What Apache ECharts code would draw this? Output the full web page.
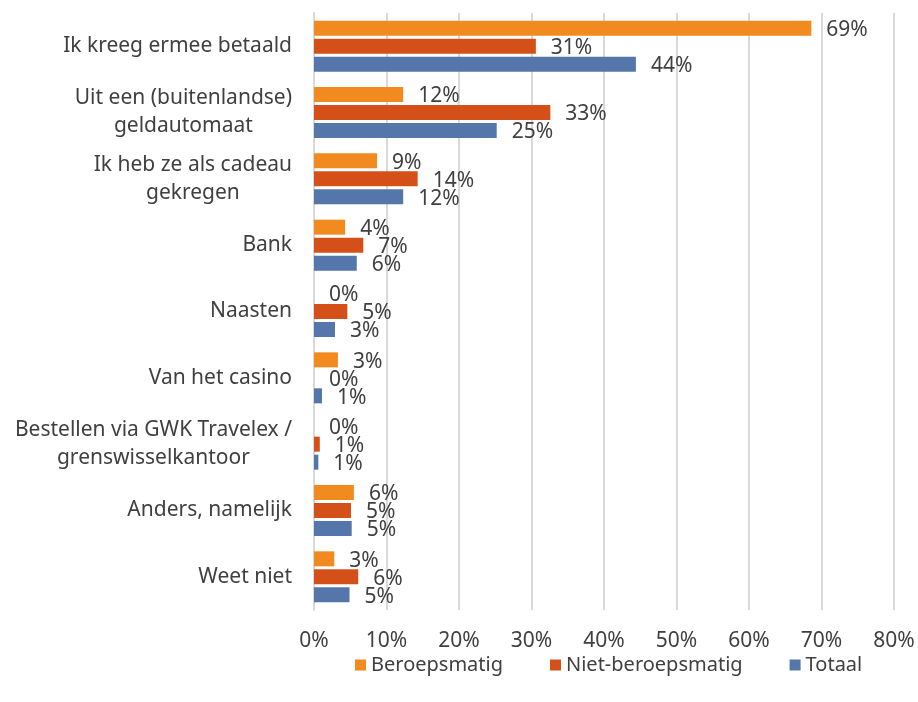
<!DOCTYPE html>
<html>
<head>
<meta charset="utf-8">
<script src="https://cdn.jsdelivr.net/npm/echarts@6/dist/echarts.min.js"></script>
<style>
  html, body { margin: 0; padding: 0; background: #fff; }
  #chart { width: 918px; height: 702px; }
</style>
</head>
<body>
<div id="chart"></div>
<script>
const categories = [
  'Ik kreeg ermee betaald',
  'Uit een (buitenlandse)\ngeldautomaat',
  'Ik heb ze als cadeau\ngekregen',
  'Bank',
  'Naasten',
  'Van het casino',
  'Bestellen via GWK Travelex /\ngrenswisselkantoor',
  'Anders, namelijk',
  'Weet niet'
];
const seriesNames = ['Beroepsmatig', 'Niet-beroepsmatig', 'Totaal'];
const beroepsmatig = [68.6, 12.3, 8.7, 4.3, 0, 3.3, 0, 5.5, 2.8];
const nietBeroepsmatig = [30.6, 32.6, 14.3, 6.8, 4.6, 0, 0.8, 5.1, 6.1];
const totaal = [44.4, 25.2, 12.3, 5.9, 2.9, 1.1, 0.6, 5.2, 4.9];
const colors = ['#F18A1F', '#D55019', '#5476AB'];

const textColor = '#404040';
const fontFamily = 'Noto Sans';
const fontSize = 21;

const chart = echarts.init(document.getElementById('chart'));

const makeSeries = (name, data, color) => ({
  name,
  type: 'bar',
  data,
  barWidth: 15,
  barGap: '20%',
  itemStyle: { color },
  label: {
    show: true,
    position: 'right',
    distance: 15,
    offset: [0, 2],
    color: textColor,
    fontSize,
    fontFamily,
    formatter: p => Math.round(p.value) + '%'
  }
});

chart.setOption({
  animation: false,
  textStyle: { fontFamily },
  grid: { left: 314, right: 24, top: 13, bottom: 92, containLabel: false },
  legend: {
    left: 350,
    top: 650,
    itemWidth: 11,
    itemHeight: 11,
    itemGap: 47,
    icon: 'rect',
    textStyle: { color: textColor, fontSize: 20, fontFamily },
    data: seriesNames
  },
  xAxis: {
    type: 'value',
    min: 0,
    max: 80,
    interval: 10,
    axisLine: { show: false },
    axisTick: { show: false },
    splitLine: { lineStyle: { color: '#D9D9D9', width: 2 } },
    axisLabel: {
      color: textColor,
      fontSize,
      fontFamily,
      margin: 21,
      formatter: v => v + '%'
    }
  },
  yAxis: {
    type: 'category',
    inverse: true,
    data: categories,
    axisLine: { show: true, lineStyle: { color: '#D9D9D9', width: 2 } },
    axisTick: { show: false },
    axisLabel: {
      margin: 22,
      formatter: v => v.split('\n').map(s => '{c|' + s + '}').join('\n'),
      rich: {
        c: {
          align: 'center',
          color: textColor,
          fontSize,
          fontFamily,
          lineHeight: 28
        }
      }
    }
  },
  series: [
    makeSeries(seriesNames[0], beroepsmatig, colors[0]),
    makeSeries(seriesNames[1], nietBeroepsmatig, colors[1]),
    makeSeries(seriesNames[2], totaal, colors[2])
  ]
});
</script>
</body>
</html>
